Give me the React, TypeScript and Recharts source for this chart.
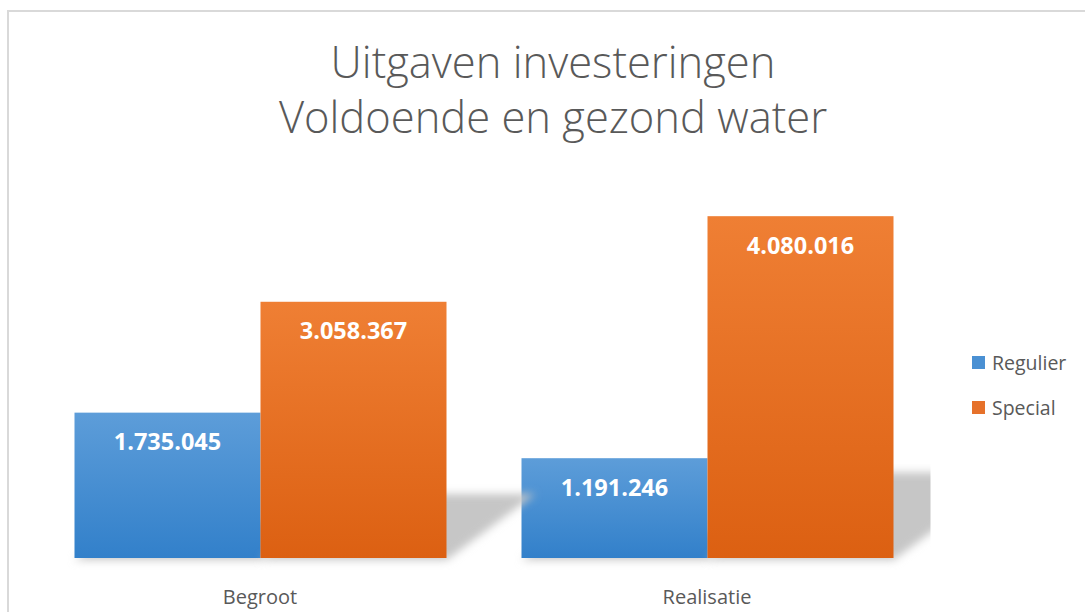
import React from 'react';
import { BarChart, Bar, XAxis, YAxis, LabelList } from 'recharts';

const categories = ['Begroot', 'Realisatie'];
const regulier = [1735045, 1191246];
const special = [3058367, 4080016];
const seriesNames = ['Regulier', 'Special'];
const titleLines = ['Uitgaven investeringen', 'Voldoende en gezond water'];

const data = categories.map((name, i) => ({ name, regulier: regulier[i], special: special[i] }));

const W = 1085;
const H = 612;
const margin = { top: 181, right: 154.5, bottom: 24, left: 36.5 };
const plotRight = W - margin.right;
const font = '"Open Sans", sans-serif';
const grey = '#595959';

const fmt = (v: number) => String(v).replace(/\B(?=(\d{3})+(?!\d))/g, '.');

// bar with a soft perspective shadow thrown back to the right
const ShadowBar = (props: any) => {
  const { x, y, width, height, fill } = props;
  if (!height) return null;
  const base = y + height;
  const dx = height * 0.347;
  const dy = height * 0.25;
  const pts = [
    [x, base + 2],
    [x + width, base + 2],
    [x + width + dx, base - dy],
    [x + dx, base - dy],
  ].map((p) => p.join(',')).join(' ');
  return (
    <g>
      <polygon points={pts} fill="#c6c6c6" filter="url(#shadowBlur)" clipPath="url(#plotClip)" />
      <rect x={x} y={y} width={width} height={height} fill={fill} />
    </g>
  );
};

const Tick = (props: any) => {
  const { x, y, payload } = props;
  return (
    <text x={x} y={y + 38} textAnchor="middle" fill={grey} fontSize={20} fontFamily={font}>
      {payload.value}
    </text>
  );
};

const legendColors = ['#4a90d3', '#e6712a'];

export default function App() {
  return (
    <div style={{ position: 'absolute', left: 0, top: 0, width: W, height: H, overflow: 'hidden', background: '#fff' }}>
      <div
        style={{
          position: 'absolute',
          left: 7,
          top: 10,
          width: W + 20,
          height: H + 20,
          border: '2px solid #d9d9d9',
        }}
      />
      <svg width={W} height={150} style={{ position: 'absolute', left: 0, top: 0 }}>
        {titleLines.map((t, i) => (
          <text
            key={t}
            x={553}
            y={78 + i * 55}
            textAnchor="middle"
            fill={grey}
            fontSize={43.5}
            fontWeight={300}
            fontFamily={font}
          >
            {t}
          </text>
        ))}
      </svg>
      <div style={{ position: 'absolute', left: 0, top: 0 }}>
        <BarChart width={W} height={H} data={data} margin={margin} barCategoryGap={38} barGap={0}>
          <defs>
            <linearGradient id="gradBlue" x1="0" y1="0" x2="0" y2="1">
              <stop offset="0%" stopColor="#5d9dd9" />
              <stop offset="100%" stopColor="#3280ca" />
            </linearGradient>
            <linearGradient id="gradOrange" x1="0" y1="0" x2="0" y2="1">
              <stop offset="0%" stopColor="#ef7f34" />
              <stop offset="100%" stopColor="#dc6012" />
            </linearGradient>
            <filter id="shadowBlur" x="-50%" y="-50%" width="200%" height="200%">
              <feGaussianBlur stdDeviation="4.5" />
            </filter>
            <clipPath id="plotClip">
              <rect x={0} y={0} width={plotRight} height={H} />
            </clipPath>
          </defs>
          <XAxis
            dataKey="name"
            axisLine={false}
            tickLine={false}
            height={30}
            tick={<Tick />}
            interval={0}
          />
          <YAxis hide domain={[0, 4500000]} />
          <Bar dataKey="regulier" name={seriesNames[0]} fill="url(#gradBlue)" shape={<ShadowBar />} isAnimationActive={false}>
            <LabelList
              dataKey="regulier"
              position="insideTop"
              offset={21}
              formatter={(v: any) => fmt(Number(v))}
              fill="#fff"
              fontSize={23.5}
              fontWeight="bold"
              fontFamily={font}
            />
          </Bar>
          <Bar dataKey="special" name={seriesNames[1]} fill="url(#gradOrange)" shape={<ShadowBar />} isAnimationActive={false}>
            <LabelList
              dataKey="special"
              position="insideTop"
              offset={21}
              formatter={(v: any) => fmt(Number(v))}
              fill="#fff"
              fontSize={23.5}
              fontWeight="bold"
              fontFamily={font}
            />
          </Bar>
        </BarChart>
      </div>
      <div style={{ position: 'absolute', left: 972, top: 350, fontFamily: font, fontSize: 19.5, color: grey }}>
        {seriesNames.map((s, i) => (
          <div key={s} style={{ display: 'flex', alignItems: 'center', height: 45, marginTop: i === 0 ? -10 : 0 }}>
            <span style={{ width: 13, height: 13, background: legendColors[i], marginRight: 7, display: 'inline-block' }} />
            <span>{s}</span>
          </div>
        ))}
      </div>
    </div>
  );
}
